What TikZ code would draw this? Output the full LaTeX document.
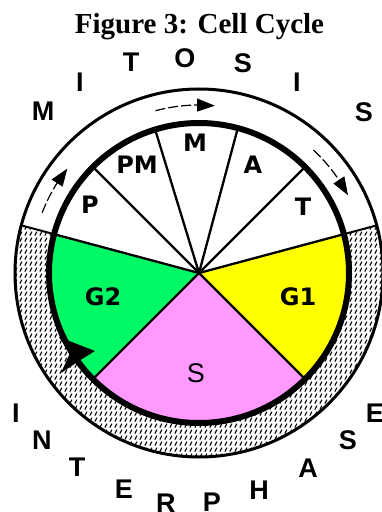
\documentclass[tikz,border=0pt]{standalone}
\usepackage{fontspec}
\setmainfont{Liberation Serif}
\newfontfamily\lsans{Liberation Sans}
\newfontfamily\dejavu{DejaVu Sans}
\usetikzlibrary{arrows.meta,patterns}
\definecolor{gtwo}{RGB}{0,250,102}
\definecolor{gone}{RGB}{255,255,0}
\definecolor{spink}{RGB}{255,153,255}
\pgfdeclarepatternformonly{hatchdash}{\pgfpointorigin}{\pgfpoint{5pt}{6pt}}{\pgfpoint{5pt}{6pt}}{%
  \pgfsetlinewidth{1.3pt}%
  \pgfpathmoveto{\pgfpoint{1pt}{0.5pt}}%
  \pgfpathlineto{\pgfpoint{3.5pt}{5pt}}%
  \pgfusepath{stroke}}
\tikzset{
  spoke/.style={line width=2.3pt},
  outerletter/.style={font=\lsans\bfseries\fontsize{27}{27}\selectfont, inner sep=0pt},
  phaselabel/.style={font=\dejavu\bfseries\fontsize{24}{24}\selectfont, inner sep=0pt},
  flow/.style={line width=1.2pt, dash pattern=on 10pt off 3pt},
  flowtip/.style={fill=black, draw=black, line width=0.8pt, line join=miter},
}
\begin{document}
\begin{tikzpicture}[x=1pt,y=1pt]
\useasboundingbox (-199,-239) rectangle (182,273);
\coordinate (c) at (0,0);
% sector fills
\fill[gtwo] (c) -- (165:150) arc[start angle=165,end angle=225,radius=150] -- cycle;
\fill[spink] (c) -- (225:150) arc[start angle=225,end angle=315,radius=150] -- cycle;
\fill[gone] (c) -- (315:150) arc[start angle=315,end angle=375,radius=150] -- cycle;
% interphase band
\path[pattern=hatchdash] (165:184) arc[start angle=165,end angle=375,radius=184]
  -- (15:150) arc[start angle=15,end angle=-195,radius=150] -- cycle;
% spokes
\foreach \a in {165,135,107,75,45,15,225,315}
  \draw[spoke] (c) -- (\a:150);
% circles
\draw[line width=3pt] (c) circle[radius=184];
\draw[line width=6pt] (c) circle[radius=150];
% band boundaries
\draw[line width=2pt] (165:150) -- (165:184);
\draw[line width=2pt] (15:150) -- (15:184);
% flow arrows
\draw[flow] (159:168) arc[start angle=159,end angle=147,radius=168];
\filldraw[flowtip] (142:168) -- (147.5:162) -- (147.5:174) -- cycle;
\draw[flow] (105:168) arc[start angle=105,end angle=90,radius=168];
\filldraw[flowtip] (85:168) -- (90.5:162) -- (90.5:174) -- cycle;
\draw[flow] (47:168) arc[start angle=47,end angle=33,radius=168];
\filldraw[flowtip] (28:168) -- (33.5:162) -- (33.5:174) -- cycle;
% big arrowhead
\fill (-140,-64) -- (-104,-78) -- (-117,-86) -- (-138,-100) -- (-129,-80) -- cycle;
% phase labels
\node[phaselabel] (p) at (-109,68) {P};
\node[phaselabel] (pm) at (-62,108) {PM};
\node[phaselabel] (m) at (-4,130) {M};
\node[phaselabel] (a) at (54,108) {A};
\node[phaselabel] (t) at (104,66) {T};
\node[phaselabel] (g2) at (-96,-24) {G2};
\node[phaselabel] (g1) at (99,-24) {G1};
\node[font=\lsans\fontsize{27}{27}\selectfont, inner sep=0pt] (s) at (-3,-100) {S};
% MITOSIS
\node[outerletter] (m1) at (-156,162) {M};
\node[outerletter] (m2) at (-119,191) {I};
\node[outerletter] (m3) at (-68,211) {T};
\node[outerletter] (m4) at (-14,215) {O};
\node[outerletter] (m5) at (44,210) {S};
\node[outerletter] (m6) at (98,191) {I};
\node[outerletter] (m7) at (165,161) {S};
% INTERPHASE
\node[outerletter] (i1) at (-183,-140) {I};
\node[outerletter] (i2) at (-157,-167) {N};
\node[outerletter] (i3) at (-122,-194) {T};
\node[outerletter] (i4) at (-75,-216) {E};
\node[outerletter] (i5) at (-33,-230) {R};
\node[outerletter] (i6) at (13,-229) {P};
\node[outerletter] (i7) at (60,-217) {H};
\node[outerletter] (i8) at (109,-195) {A};
\node[outerletter] (i9) at (149,-167) {S};
\node[outerletter] (i10) at (176,-140) {E};
% title
\node[font=\bfseries\fontsize{29}{29}\selectfont, anchor=base, inner sep=0pt] (title) at (0.5,240) {Figure 3: Cell Cycle};
\end{tikzpicture}
\end{document}
